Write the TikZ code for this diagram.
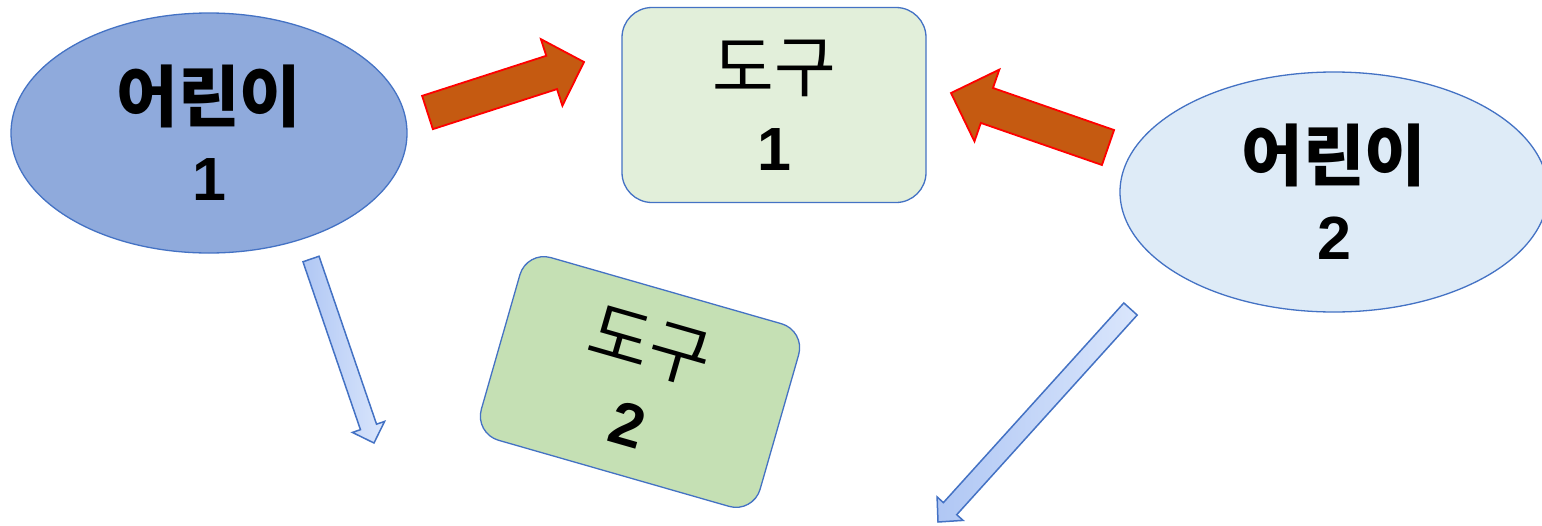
\documentclass[tikz,border=0pt]{standalone}
\usepackage{fontspec}
\setmainfont{Noto Sans CJK KR}
\newfontfamily\digitfont{Liberation Sans}
\usetikzlibrary{shapes.geometric,calc}
\definecolor{edgeblue}{HTML}{4472C4}
\definecolor{kidone}{HTML}{8FAADC}
\definecolor{kidtwo}{HTML}{DEEBF7}
\definecolor{toolone}{HTML}{E2EFDA}
\definecolor{tooltwo}{HTML}{C5E0B4}
\definecolor{rustfill}{HTML}{C55A11}
\definecolor{arrowdark}{HTML}{B0C7F4}
\definecolor{arrowlight}{HTML}{DAE6FC}
\tikzset{
  bigtext/.style={font=\fontsize{67}{79}\selectfont, align=center, text=black},
  kid/.style={ellipse, draw=edgeblue, line width=1.3pt, inner sep=0pt, bigtext},
  tool/.style={rectangle, rounded corners=30pt, draw=edgeblue, line width=1.3pt, inner sep=0pt, bigtext},
  redarrow/.style={fill=rustfill, draw=red, line width=1.8pt, line join=miter},
  bluearrow/.style={shading=axis, left color=arrowdark, right color=arrowlight, draw=edgeblue, line width=1.5pt, line join=miter},
}
\newcommand\dgb[1]{{\digitfont\bfseries\fontsize{61}{79}\selectfont #1}}
% #1 tail, #2 tip, #3 shaft half width, #4 head half width, #5 head length, #6 style
\newcommand\blockarrow[6]{%
  \coordinate (#1hb) at ($(#2)!#5!(#1)$);
  \path[#6] ($(#1)!#3!90:(#2)$) -- ($(#1hb)!#3!90:(#2)$) -- ($(#1hb)!#4!90:(#2)$) -- (#2)
    -- ($(#1hb)!#4!-90:(#2)$) -- ($(#1hb)!#3!-90:(#2)$) -- ($(#1)!#3!-90:(#2)$) -- cycle;
}
\begin{document}
\begin{tikzpicture}[x=1pt,y=-1pt]
\clip (0,0) rectangle (1542,525);
\fill[white] (0,0) rectangle (1542,525);

\node[kid, fill=kidone, minimum width=396pt, minimum height=240pt] (c1) at (209,133)
  {{\bfseries 어린이}\\\dgb{1}};
\node[kid, fill=kidtwo, minimum width=428pt, minimum height=240pt] (c2) at (1334,192)
  {{\bfseries 어린이}\\\dgb{2}};
\node[tool, fill=toolone, minimum width=304pt, minimum height=195pt] (t1) at (774,105)
  {도구\\\dgb{1}};
\node[tool, fill=tooltwo, minimum width=290pt, minimum height=190pt, rounded corners=25pt, rotate=-16] (t2) at (640,382)
  {도구\\\dgb{2}};

\coordinate (ra) at (427.5,112.5);
\coordinate (rat) at (584,62);
\coordinate (rb) at (1108,147.5);
\coordinate (rbt) at (951,93);
\coordinate (ba) at (311,259);
\coordinate (bat) at (374,443);
\coordinate (bb) at (1130.5,309);
\coordinate (bbt) at (938,522);

\blockarrow{ra}{rat}{17.5pt}{35pt}{34pt}{redarrow}
\blockarrow{rb}{rbt}{18.5pt}{38pt}{38pt}{redarrow}
\blockarrow{ba}{bat}{8.5pt}{17pt}{17pt}{bluearrow}
\blockarrow{bb}{bbt}{9pt}{17.5pt}{18pt}{bluearrow}
\end{tikzpicture}
\end{document}
